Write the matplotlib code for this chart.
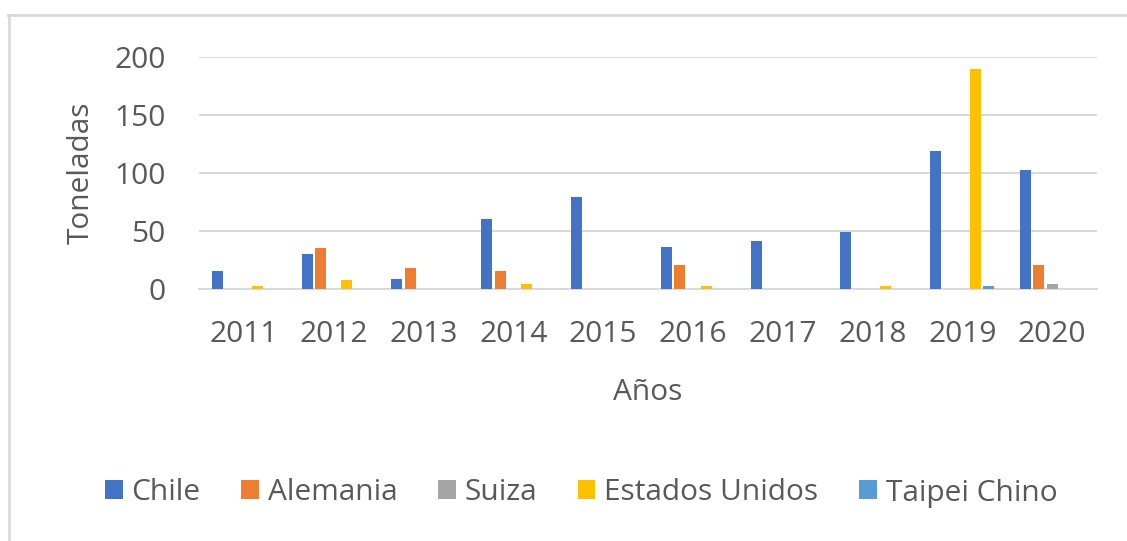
import matplotlib.pyplot as plt
import numpy as np
from matplotlib.lines import Line2D
from matplotlib.patches import Patch

plt.rcParams["font.family"] = ["Open Sans", "DejaVu Sans"]

years = ["2011", "2012", "2013", "2014", "2015", "2016", "2017", "2018", "2019", "2020"]
series = ["Chile", "Alemania", "Suiza", "Estados Unidos", "Taipei Chino"]
chile = [15.5, 30, 9, 60, 79, 36, 41, 49, 119, 103]
alemania = [0, 35, 18.5, 15.5, 0, 20.5, 0, 0, 0, 20.5]
suiza = [0, 0, 0, 0, 0, 0, 0, 0, 0, 4.3]
eeuu = [3, 7.5, 0, 4.3, 0, 2.6, 0, 2.6, 190, 0]
taipei = [0, 0, 0, 0, 0, 0, 0, 0, 2.5, 0]
colors = ["#4472C4", "#ED7D31", "#A5A5A5", "#FFC000", "#5B9BD5"]

text_color = "#595959"
grid_color = "#D9D9D9"
fs = 21.5

fig = plt.figure(figsize=(11.27, 5.41), dpi=100)
ax = fig.add_axes([199 / 1127, 1 - 289 / 541, (1097 - 199) / 1127, (289 - 57) / 541])

x = np.arange(len(years))
slot = 0.148
width = 0.1225
for i, (vals, col) in enumerate(zip([chile, alemania, suiza, eeuu, taipei], colors)):
    ax.bar(x + (i - 2) * slot, vals, width=width, color=col, zorder=3)

ax.set_xlim(-0.5, len(years) - 0.5)
ax.set_ylim(0, 200)
ax.set_yticks([0, 50, 100, 150, 200])
ax.set_xticks(x)
ax.set_xticklabels(years)
ax.yaxis.grid(True, color=grid_color, linewidth=1.4, zorder=0)
ax.set_axisbelow(True)
for s in ["top", "right", "left"]:
    ax.spines[s].set_visible(False)
ax.spines["bottom"].set_color(grid_color)
ax.spines["bottom"].set_linewidth(1.4)
ax.tick_params(axis="both", length=0, labelsize=fs, colors=text_color)
ax.tick_params(axis="y", pad=24)
ax.tick_params(axis="x", pad=22)

ax.set_ylabel("Toneladas", fontsize=fs, color=text_color, labelpad=13)
ax.set_xlabel("Años", fontsize=fs, color=text_color, labelpad=21)

handles = [Patch(facecolor=c, label=s) for c, s in zip(colors, series)]
fig.legend(handles=handles, loc="center", bbox_to_anchor=(581 / 1127, 1 - 493 / 541),
           ncol=5, frameon=False, fontsize=fs, labelcolor=text_color,
           handlelength=0.6, handleheight=0.6, handletextpad=0.3, columnspacing=1.35)

# outer chart frame (top and left edges visible)
fig.add_artist(Line2D([8 / 1127, 1.0], [1 - 15 / 541, 1 - 15 / 541], color=grid_color, linewidth=2))
fig.add_artist(Line2D([9 / 1127, 9 / 1127], [0, 1 - 15 / 541], color=grid_color, linewidth=2))

fig.savefig("out.png", dpi=100)
